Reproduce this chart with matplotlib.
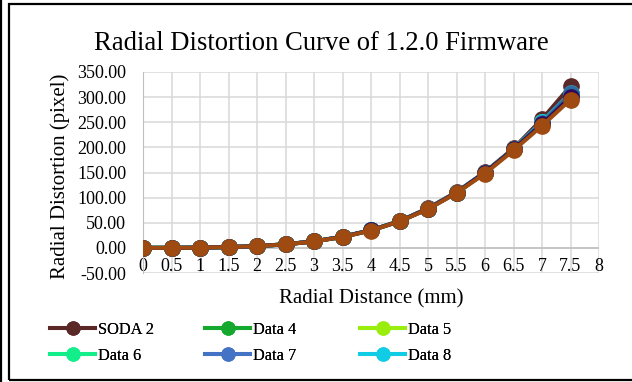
import matplotlib
matplotlib.use("Agg")
import matplotlib.pyplot as plt
from matplotlib.lines import Line2D
from matplotlib.patches import Rectangle

plt.rcParams['font.family'] = ['Liberation Serif', 'DejaVu Serif']

x = [0, 0.5, 1, 1.5, 2, 2.5, 3, 3.5, 4, 4.5, 5, 5.5, 6, 6.5, 7, 7.5]
soda2 = [0, 0.1, 0.5, 1.5, 3.6, 7.2, 13, 22, 35, 53, 79, 111, 151, 198, 256, 322]
data4 = [0, 0.1, 0.5, 1.5, 3.5, 7.0, 13, 22, 35, 53, 78, 110, 150, 196, 250, 308]
data5 = [0, 0.1, 0.5, 1.5, 3.5, 7.0, 13, 22, 35, 53, 78, 110, 150, 196, 250, 306]
data6 = [0, 0.1, 0.5, 1.5, 3.5, 7.0, 13, 22, 35, 53, 78, 110, 150, 196, 251, 307]
data7 = [0, 0.1, 0.5, 1.5, 3.5, 7.0, 13, 22, 35, 53, 78, 110, 150, 196, 251, 308]
data8 = [0, 0.1, 0.5, 1.5, 3.5, 7.0, 13, 22, 35, 53, 78, 110, 150, 196, 250, 305]
data9 = [0, 0.1, 0.5, 1.5, 3.5, 7.0, 13, 22, 35, 53, 78, 110, 150, 196, 249, 306]
data10 = [0, 0.1, 0.5, 1.5, 3.5, 7.0, 13, 22, 35, 53, 78, 110, 150, 196, 246, 300]
data11 = [0, 0.1, 0.5, 1.5, 3.4, 6.9, 12.8, 21.5, 34.5, 52.5, 77, 109, 148, 194, 243, 295]

series = [
    ("SODA 2", soda2, "#5B2828", True),
    ("Data 4", data4, "#15A82E", True),
    ("Data 5", data5, "#99EE0E", True),
    ("Data 6", data6, "#12EE8A", True),
    ("Data 7", data7, "#4472C4", True),
    ("Data 8", data8, "#10CCE4", True),
    ("Data 9", data9, "#2C6E9A", False),
    ("Data 10", data10, "#2E0A5C", False),
    ("Data 11", data11, "#9E4A10", False),
]

xticks = [0, 0.5, 1, 1.5, 2, 2.5, 3, 3.5, 4, 4.5, 5, 5.5, 6, 6.5, 7, 7.5, 8]
xticklabels = ["0", "0.5", "1", "1.5", "2", "2.5", "3", "3.5", "4", "4.5",
               "5", "5.5", "6", "6.5", "7", "7.5", "8"]
yticks = [-50, 0, 50, 100, 150, 200, 250, 300, 350]
yticklabels = ["-50.00", "0.00", "50.00", "100.00", "150.00", "200.00",
               "250.00", "300.00", "350.00"]

W, H = 632, 382
fig = plt.figure(figsize=(W / 100, H / 100), dpi=100)
ax = fig.add_axes([143 / W, 1 - 273 / H, (599 - 143) / W, (273 - 72) / H])

handles = {}
for name, vals, col, leg in series:
    ln, = ax.plot(x, vals, color=col, lw=2.9, marker='o', ms=11,
                  markerfacecolor=col, markeredgecolor=col, label=name, zorder=3)
    if leg:
        handles[name] = ln

ax.set_xlim(0, 8)
ax.set_ylim(-50, 350)
ax.set_xticks(xticks)
ax.set_xticklabels(xticklabels)
ax.set_yticks(yticks)
ax.set_yticklabels(yticklabels)
ax.grid(True, color="#D9D9D9", lw=1.1, zorder=0)
ax.set_axisbelow(True)
for s in ['top', 'right', 'bottom']:
    ax.spines[s].set_visible(False)
ax.spines['left'].set_color("#BFBFBF")
ax.axhline(0, color="#BFBFBF", lw=1.1, zorder=1)
ax.tick_params(axis='both', length=0, labelsize=13, colors='black')
ax.tick_params(axis='x', pad=-11)
ax.tick_params(axis='y', pad=12)

fig.text(321 / W, 1 - 43 / H, "Radial Distortion Curve of 1.2.0 Firmware",
         ha='center', va='center', fontsize=19.2)
fig.text(371 / W, 1 - 299 / H, "Radial Distance (mm)", ha='center', va='center',
         fontsize=15)
fig.text(60 / W, 1 - 176 / H, "Radial Distortion (pixel)", ha='center', va='center',
         fontsize=15, rotation=90)

legend_cols = [["SODA 2", "Data 6"], ["Data 4", "Data 7"], ["Data 5", "Data 8"]]
col_x = [50, 205, 360]
for names, cx in zip(legend_cols, col_x):
    lg = fig.legend(handles=[handles[n] for n in names], loc='center left',
                    bbox_to_anchor=(cx / W, 1 - 343 / H), borderaxespad=0,
                    borderpad=0, ncol=1, frameon=False, fontsize=11.8,
                    handlelength=2.75, handletextpad=0.15, labelspacing=0.6,
                    markerscale=0.85)
    fig.add_artist(lg)

# borders
fig.add_artist(Rectangle((8.5 / W, 2.5 / H), (W + 5) / W, (H - 6) / H,
                         transform=fig.transFigure, fill=False, ec='black', lw=1.6))
fig.add_artist(Line2D([0.8 / W, 0.8 / W], [0, 1], transform=fig.transFigure,
                      color='black', lw=1.6))

fig.savefig("out.png", dpi=100)
